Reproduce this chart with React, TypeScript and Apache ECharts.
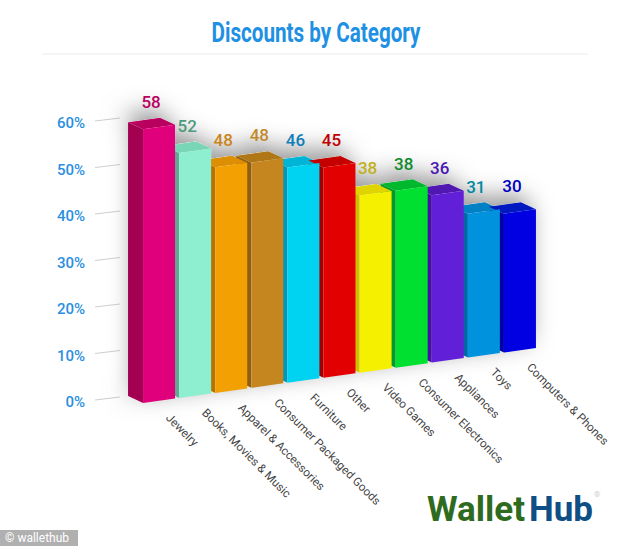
import React, { useEffect, useRef } from "react";
import * as echarts from "echarts";

const categories = ["Jewelry", "Books, Movies & Music", "Apparel & Accessories", "Consumer Packaged Goods", "Furniture", "Other", "Video Games", "Consumer Electronics", "Appliances", "Toys", "Computers & Phones"];
const discounts = [58, 52, 48, 48, 46, 45, 38, 38, 36, 31, 30];
const yTicks = [0, 10, 20, 30, 40, 50, 60];
const frontColors = ["#e0007c", "#8eefd0", "#f3a003", "#c6861f", "#00d2f2", "#e20000", "#f5f000", "#00e030", "#6120d8", "#0092dc", "#0000e2"];
const sideColors = ["#a30052", "#62a893", "#b87200", "#8f5e12", "#0098b8", "#a00000", "#cfc000", "#009c28", "#4410a0", "#0068a8", "#0000a8"];
const topColors = ["#b8005e", "#78d6b6", "#dc8e04", "#b07716", "#00b4d6", "#c40000", "#e0d400", "#00b82e", "#5018b0", "#0080c4", "#0018c0"];
const labelColors = ["#b8005e", "#4d9a80", "#c9851b", "#c08a2b", "#0f7fb8", "#c00000", "#c0b020", "#0f8a2e", "#4a18b0", "#008a9e", "#0000c0"];

const FRONT_W = 32;
const DEPTH: [number, number] = [-15, -7];
const SLOPE = 0.14;

const project = (api: any) => {
  const [cx, y0] = api.coord([api.value(0), 0]);
  const [, yV] = api.coord([api.value(0), api.value(1)]);
  const bandW = api.size([1, 0])[0];
  const firstCx = cx - api.value(0) * bandW;
  const xl = cx - FRONT_W / 2;
  const xr = cx + FRONT_W / 2;
  const baseAt = (x: number) => y0 + 1 - SLOPE * (x - (firstCx - FRONT_W / 2));
  const stretch = 1.015 - 0.02 * (api.value(0) / 10);
  const h = (y0 - yV) * stretch;
  const bl = [xl, baseAt(xl)];
  const br = [xr, baseAt(xr)];
  const tl = [xl, baseAt(xl) - h];
  const tr = [xr, baseAt(xr) - h];
  const back = (p: number[]) => [p[0] + DEPTH[0], p[1] + DEPTH[1]];
  return { cx, bl, br, tl, tr, back, baseMid: baseAt(cx), topMid: baseAt(cx) - h };
};

const seriesData = categories.map((c, i) => [c, discounts[i]]);

const layer = (z: number, fn: (p: any, i: number, api: any) => any) => ({
  type: "custom" as const,
  coordinateSystem: "cartesian2d",
  data: seriesData,
  encode: { x: 0, y: 1 },
  z,
  silent: true,
  clip: false,
  renderItem: (params: any, api: any) => fn(project(api), params.dataIndex, api),
});

export default function App() {
  const ref = useRef<HTMLDivElement>(null);
  useEffect(() => {
    const chart = echarts.init(ref.current!, undefined, { renderer: "svg" });
    chart.setOption({
      animation: false,
      backgroundColor: "#ffffff",
      grid: { left: 141, right: 96, top: 123, bottom: 144 },
      xAxis: { type: "category", data: categories, show: false },
      yAxis: {
        type: "value",
        min: 0,
        max: 60,
        interval: 10,
        axisLine: { show: false },
        axisTick: { show: false },
        splitLine: { show: false },
        axisLabel: { formatter: "{value}%", margin: 56, color: "#2a8fe0", fontFamily: "Roboto", fontWeight: 500, fontSize: 15 },
      },
      graphic: [
        { type: "text", x: 316, y: 33, scaleX: 0.765, style: { text: "Discounts by Category", font: "bold 27px Roboto", fill: "#2090e4", align: "center", verticalAlign: "middle" } },
        { type: "line", shape: { x1: 42, y1: 54, x2: 588, y2: 54 }, style: { stroke: "#ececec", lineWidth: 1 } },
        { type: "text", x: 427, y: 509, style: { text: "Wallet", font: "bold 35px Roboto", fill: "#2f6b1f", verticalAlign: "middle" } },
        { type: "text", x: 529, y: 509, style: { text: "Hub", font: "bold 35px Roboto", fill: "#0f4f86", verticalAlign: "middle" } },
        { type: "text", x: 594, y: 494, style: { text: "®", font: "8px Roboto", fill: "#cccccc", verticalAlign: "middle" } },
        { type: "rect", shape: { x: 0, y: 530, width: 78, height: 16 }, style: { fill: "#b0b0b0" } },
        { type: "text", x: 5, y: 538, style: { text: "© wallethub", font: "12px Roboto", fill: "#ffffff", verticalAlign: "middle" } },
      ],
      series: [
        {
          type: "custom",
          coordinateSystem: "cartesian2d",
          data: yTicks.map((v) => [categories[0], v]),
          encode: { x: 0, y: 1 },
          z: 1,
          silent: true,
          clip: false,
          renderItem: (_: any, api: any) => {
            const [cx, y] = api.coord([api.value(0), api.value(1)]);
            return {
              type: "line",
              shape: { x1: cx - 64, y1: y - 2, x2: cx - 39, y2: y - 5 },
              style: { stroke: "#cfcfcf", lineWidth: 1 },
            };
          },
        },
        layer(2, (p) => ({
          type: "polygon",
          shape: { points: [p.bl, p.tl, p.back(p.tl), p.back(p.tr), p.tr, p.br, p.back(p.bl)] },
          style: { fill: "#ffffff", shadowBlur: 24, shadowColor: "rgba(0,0,0,0.5)", shadowOffsetX: -8, shadowOffsetY: -6 },
        })),
        layer(3, (p, i) => ({
          type: "polygon",
          shape: { points: [p.bl, p.tl, p.back(p.tl), p.back(p.bl)] },
          style: { fill: sideColors[i] },
        })),
        layer(4, (p, i) => ({
          type: "polygon",
          shape: { points: [p.tl, p.tr, p.back(p.tr), p.back(p.tl)] },
          style: { fill: topColors[i] },
        })),
        layer(5, (p, i) => ({
          type: "polygon",
          shape: { points: [p.bl, p.br, p.tr, p.tl] },
          style: { fill: frontColors[i] },
        })),
        layer(6, (p, i) => ({
          type: "text",
          x: p.cx - 8,
          y: p.topMid - 25,
          style: { text: String(discounts[i]), font: "500 17px Roboto", fill: labelColors[i], align: "center", verticalAlign: "middle" },
        })),
        layer(6, (p, i) => ({
          type: "text",
          x: p.cx + 9,
          y: p.baseMid + 15,
          rotation: (-45 * Math.PI) / 180,
          style: { text: categories[i], font: "11.7px Roboto", fill: "#444444", align: "left", verticalAlign: "middle" },
        })),
      ],
    });
    return () => chart.dispose();
  }, []);
  return <div ref={ref} style={{ position: "absolute", left: 0, top: 0, width: 634, height: 546 }} />;
}
